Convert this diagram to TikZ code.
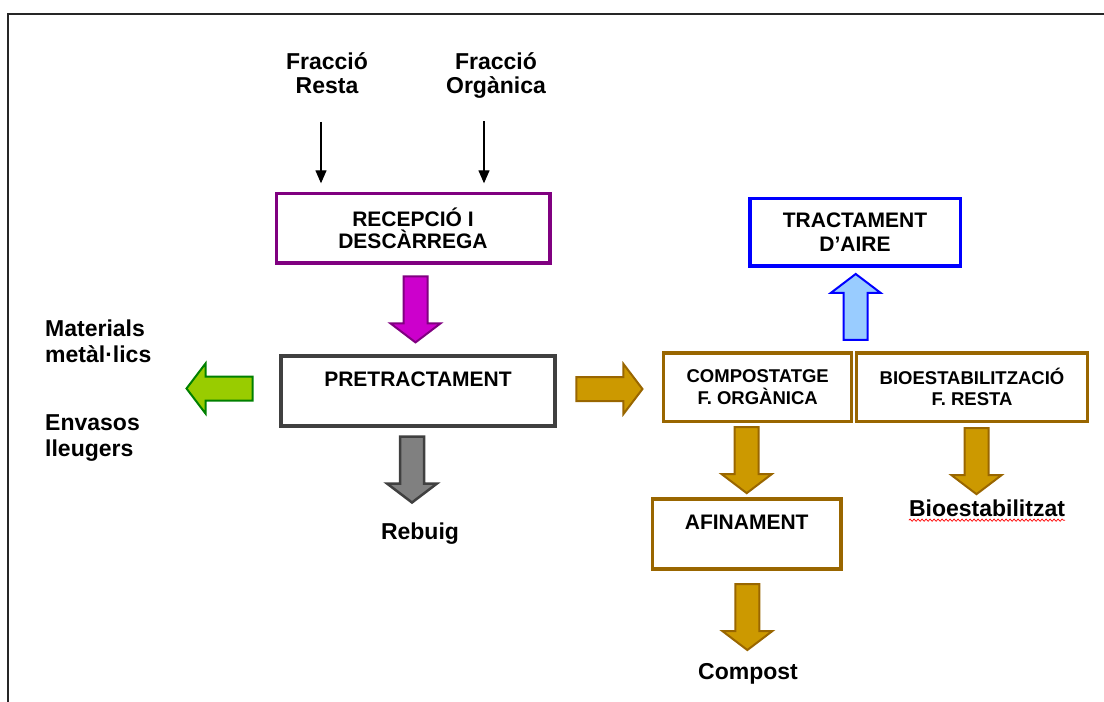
\documentclass[tikz,border=0pt]{standalone}
\usepackage{fontspec}
\setmainfont{Liberation Sans}
\usetikzlibrary{calc,arrows.meta,decorations.pathmorphing}

\definecolor{porpra}{RGB}{128,0,128}
\definecolor{magenta2}{RGB}{204,0,204}
\definecolor{grisfosc}{RGB}{64,64,64}
\definecolor{gris}{RGB}{128,128,128}
\definecolor{verd}{RGB}{0,128,0}
\definecolor{verdclar}{RGB}{153,204,0}
\definecolor{or}{RGB}{153,102,0}
\definecolor{orclar}{RGB}{204,153,0}
\definecolor{blau}{RGB}{0,0,255}
\definecolor{blauclar}{RGB}{153,204,255}

\begin{document}
\begin{tikzpicture}[x=1pt,y=-1pt,
    caixa/.style={draw,fill=white,line width=3.5pt,align=center,inner sep=0pt},
    etiq/.style={align=center,inner sep=0pt,font=\fontsize{23}{24}\selectfont\bfseries},
    fina/.style={line width=1.3pt,-{Triangle[width=11pt,length=13pt]}},
    fletxa/.pic={\path[pic actions] (-33,-12) -- (14,-12) -- (14,-25) -- (33,0) -- (14,25) -- (14,12) -- (-33,12) -- cycle;},
    onada/.style={red,line width=0.7pt,decorate,decoration={snake,amplitude=1.1pt,segment length=4pt}}]
          \useasboundingbox (0,0) rectangle (1104,702);
          \draw[line width=1.8pt,black!85] (8,702) -- (8,14) -- (1104,14);
          % entrades
          \node[etiq] (fres) at (327,73) {Fracció\\Resta};
          \node[etiq] (forg) at (496,75) {Fracció\\Orgànica};
          \node[caixa,draw=porpra,minimum width=273.5pt,minimum height=69.5pt,font=\fontsize{21}{22}\selectfont\bfseries] (recep) at (413,228.3) {RECEPCIÓ I\\DESCÀRREGA};
          \draw[fina] ($(fres.south)+(-6,28)$) -- ($(fres.south |- recep.north)+(-6,-8.5)$);
          \draw[fina] ($(forg.south)+(-12,23.4)$) -- ($(forg.south |- recep.north)+(-12,-8.5)$);
          \node[caixa,draw=grisfosc,line width=4pt,minimum width=274pt,minimum height=70pt,text height=15pt,text depth=25pt,font=\fontsize{21}{24}\selectfont\bfseries] (pretr) at (418,391) {PRETRACTAMENT};
          \pic[draw=porpra,fill=magenta2,line width=2pt,rotate=-90] at ($(recep.south)!0.5!(pretr.north)$) {fletxa};
          % sortides de l'esquerra
          \node[etiq,anchor=west,align=left,font=\fontsize{23}{26}\selectfont\bfseries] (metall) at (45,341.5) {Materials\\metàl·lics};
          \node[etiq,anchor=west,align=left,font=\fontsize{23}{26}\selectfont\bfseries] (envas) at (45,438.5) {Envasos\\lleugers};
          \pic[draw=verd,fill=verdclar,line width=2pt,rotate=180] at ($(pretr.west)+(-59.5,-2.5)$) {fletxa};
          \node[etiq] (rebuig) at (420,534) {Rebuig};
          \pic[draw=grisfosc,fill=gris,line width=2.5pt,rotate=-90] at ($(pretr.south)!0.5!(rebuig.north)+(-7,-6)$) {fletxa};
          % linia biologica
          \node[caixa,draw=or,minimum width=188pt,minimum height=68.5pt,font=\fontsize{18.5}{21.5}\selectfont\bfseries] (compos) at (757.7,387) {COMPOSTATGE\\F. ORGÀNICA};
          \node[caixa,draw=or,minimum width=231pt,minimum height=68.5pt,font=\fontsize{18.5}{21.5}\selectfont\bfseries] (bioest) at (972,387) {BIOESTABILITZACIÓ\\F. RESTA};
          \pic[draw=or,fill=orclar,line width=2pt] at ($(pretr.east)!0.5!(compos.west)$) {fletxa};
          \node[caixa,draw=blau,minimum width=210.5pt,minimum height=67.8pt,font=\fontsize{21}{24}\selectfont\bfseries] (aire) at (855,232.3) {TRACTAMENT\\D’AIRE};
          \pic[draw=blau,fill=blauclar,line width=2pt,rotate=90] at ($(aire.south)!0.5!(compos.north east)+(1.5,-2.5)$) {fletxa};
          \node[caixa,draw=or,minimum width=188.5pt,minimum height=69.9pt,text height=15pt,text depth=24.4pt,font=\fontsize{21}{24}\selectfont\bfseries] (afin) at (746.7,534) {AFINAMENT};
          \pic[draw=or,fill=orclar,line width=2pt,rotate=-90] at ($(compos.south)!0.5!(afin.north)+(-5.5,0)$) {fletxa};
          \node[etiq] (bioe) at (987,508) {Bioestabilitzat};
          \draw[onada] ($(bioe.south west)+(0,3.5)$) -- ($(bioe.south east)+(0,3.5)$);
          \pic[draw=or,fill=orclar,line width=2pt,rotate=-90] at ($(bioest.south)!0.5!(bioe.north)+(-3,0)$) {fletxa};
          \node[etiq] (compost) at (748,674) {Compost};
          \pic[draw=or,fill=orclar,line width=2pt,rotate=-90] at ($(afin.south)!0.5!(compost.north)$) {fletxa};
        \end{tikzpicture}
\end{document}
